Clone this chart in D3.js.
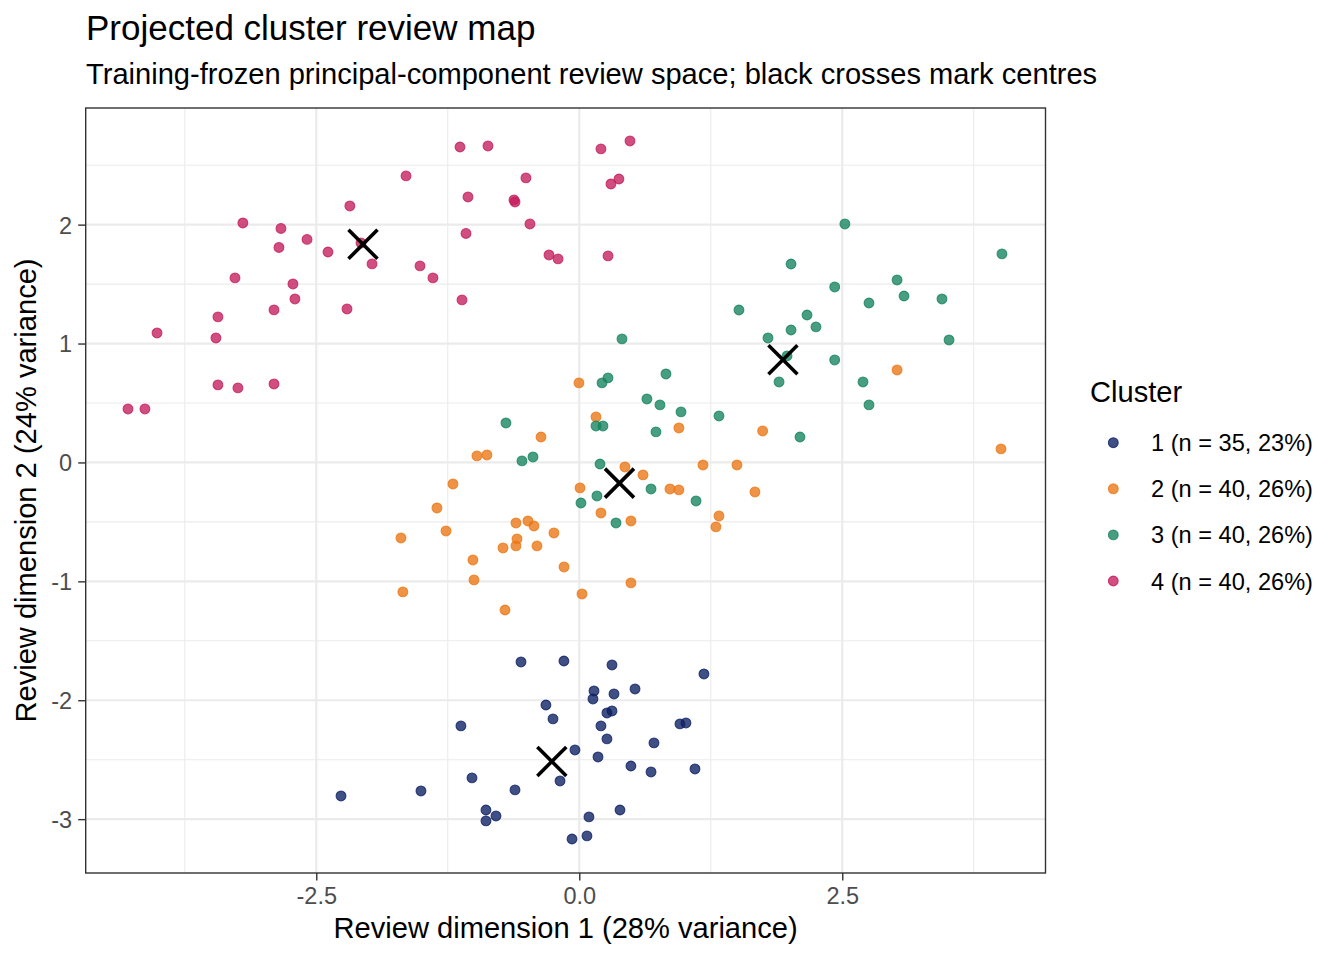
<!DOCTYPE html>
<html>
<head>
<meta charset="utf-8">
<script src="https://cdn.jsdelivr.net/npm/d3@7"></script>
<style>
  html, body { margin: 0; padding: 0; background: #fff; }
  svg { display: block; }
  text { font-family: "Liberation Sans", Arial, Helvetica, sans-serif; }
</style>
</head>
<body>
<svg id="chart" width="1344" height="960"></svg>
<script>
// ---------------- data ----------------
const clusterNames = ["1 (n = 35, 23%)", "2 (n = 40, 26%)", "3 (n = 40, 26%)", "4 (n = 40, 26%)"];
const clusterColors = ["#0c1f62", "#ea7612", "#14835d", "#c41c5c"];

const cluster1Points = [
  [-0.554,-1.678],[-0.146,-1.670],[0.311,-1.703],[1.185,-1.779],[0.140,-1.922],
  [0.130,-1.989],[0.330,-1.947],[0.530,-1.905],[-0.317,-2.040],[-0.250,-2.157],
  [0.263,-2.107],[0.311,-2.090],[-1.125,-2.216],[0.206,-2.216],[0.957,-2.199],
  [1.014,-2.191],[0.263,-2.325],[0.710,-2.359],[-0.041,-2.418],[0.178,-2.477],
  [0.491,-2.553],[0.682,-2.603],[1.100,-2.578],[-1.020,-2.653],[-0.183,-2.679],
  [-0.611,-2.754],[-1.505,-2.763],[-2.265,-2.805],[-0.887,-2.923],[-0.792,-2.973],
  [-0.887,-3.015],[0.092,-2.981],[0.387,-2.923],[-0.069,-3.167],[0.073,-3.141]
];
const cluster2Points = [
  [-0.003,0.669],[0.159,0.383],[-0.364,0.214],[0.947,0.290],[-0.973,0.055],
  [-0.878,0.063],[0.434,-0.038],[0.606,-0.105],[1.176,-0.021],[1.499,-0.021],
  [0.007,-0.214],[0.862,-0.223],[0.947,-0.231],[0.206,-0.425],[0.491,-0.492],
  [1.328,-0.450],[1.299,-0.542],[-0.602,-0.509],[-0.488,-0.492],[-0.431,-0.534],
  [-0.241,-0.593],[-0.592,-0.643],[-1.201,-0.181],[-1.353,-0.383],[-1.267,-0.576],
  [-1.695,-0.635],[-0.602,-0.702],[-0.725,-0.719],[-0.402,-0.702],[-1.011,-0.820],
  [-0.145,-0.879],[-1.001,-0.988],[0.491,-1.013],[-1.677,-1.089],[0.026,-1.106],
  [-0.706,-1.241],[3.021,0.778],[1.743,0.265],[4.009,0.114],[1.670,-0.248]
];
const cluster3Points = [
  [2.525,2.006],[4.018,1.754],[2.013,1.669],[3.021,1.535],[2.428,1.476],
  [3.087,1.400],[3.448,1.375],[2.754,1.341],[1.518,1.282],[2.165,1.240],
  [2.250,1.140],[2.013,1.114],[1.794,1.047],[3.515,1.030],[1.975,0.896],
  [2.428,0.862],[1.899,0.677],[2.697,0.677],[2.754,0.484],[1.328,0.391],
  [2.098,0.214],[0.406,1.039],[0.273,0.711],[0.216,0.669],[0.824,0.744],
  [0.643,0.534],[0.767,0.484],[0.967,0.425],[-0.697,0.332],[0.159,0.307],
  [0.225,0.307],[0.729,0.257],[-0.545,0.013],[-0.440,0.046],[0.197,-0.013],
  [0.682,-0.223],[0.168,-0.282],[0.016,-0.341],[1.110,-0.324],[0.349,-0.509]
];
const cluster4Points = [
  [-1.134,2.653],[-0.868,2.662],[0.206,2.637],[0.482,2.704],[-1.647,2.410],
  [-0.507,2.393],[0.301,2.342],[0.377,2.384],[-1.058,2.233],[-0.621,2.208],
  [-0.611,2.191],[-2.181,2.157],[-3.198,2.014],[-0.469,2.006],[-2.836,1.968],
  [-1.077,1.926],[-2.588,1.876],[-2.855,1.808],[-2.389,1.770],[-2.075,1.846],
  [-1.970,1.670],[-1.514,1.653],[-1.391,1.552],[-0.288,1.745],[-0.202,1.712],
  [0.273,1.737],[-3.273,1.552],[-2.722,1.501],[-2.703,1.375],[-1.115,1.367],
  [-2.902,1.283],[-2.208,1.291],[-4.014,1.089],[-3.435,1.224],[-3.454,1.047],
  [-3.435,0.652],[-3.245,0.627],[-2.902,0.660],[-4.290,0.450],[-4.129,0.450]
];
const clusterCentres = [[-0.261,-2.515],[0.382,-0.174],[1.936,0.863],[-2.056,1.835]];

const xMajorTicks = [-2.5, 0, 2.5];
const xMinorTicks = [-3.75, -1.25, 1.25, 3.75];
const yMajorTicks = [-3, -2, -1, 0, 1, 2];
const yMinorTicks = [-2.5, -1.5, -0.5, 0.5, 1.5, 2.5];

const titleText = "Projected cluster review map";
const subtitleText = "Training-frozen principal-component review space; black crosses mark centres";
const xTitle = "Review dimension 1 (28% variance)";
const yTitle = "Review dimension 2 (24% variance)";
const legendTitle = "Cluster";

// ---------------- drawing ----------------
const svg = d3.select("#chart");
const panel = {left: 85.7, right: 1045.5, top: 108, bottom: 873};

const x = d3.scaleLinear().domain([-4.692, 4.432]).range([panel.left, panel.right]);
const y = d3.scaleLinear().domain([-3.453, 2.981]).range([panel.bottom, panel.top]);

const clusters = [cluster1Points, cluster2Points, cluster3Points, cluster4Points];

// panel background
svg.append("rect").attr("x", panel.left).attr("y", panel.top)
  .attr("width", panel.right - panel.left).attr("height", panel.bottom - panel.top)
  .attr("fill", "#fff");

// grid
const grid = svg.append("g");
grid.selectAll(".xminor").data(xMinorTicks).join("line")
  .attr("x1", d => x(d)).attr("x2", d => x(d)).attr("y1", panel.top).attr("y2", panel.bottom)
  .attr("stroke", "#ebebeb").attr("stroke-width", 1.1);
grid.selectAll(".yminor").data(yMinorTicks).join("line")
  .attr("y1", d => y(d)).attr("y2", d => y(d)).attr("x1", panel.left).attr("x2", panel.right)
  .attr("stroke", "#ebebeb").attr("stroke-width", 1.1);
grid.selectAll(".xmajor").data(xMajorTicks).join("line")
  .attr("x1", d => x(d)).attr("x2", d => x(d)).attr("y1", panel.top).attr("y2", panel.bottom)
  .attr("stroke", "#ebebeb").attr("stroke-width", 2.2);
grid.selectAll(".ymajor").data(yMajorTicks).join("line")
  .attr("y1", d => y(d)).attr("y2", d => y(d)).attr("x1", panel.left).attr("x2", panel.right)
  .attr("stroke", "#ebebeb").attr("stroke-width", 2.2);

// points
const pts = svg.append("g");
clusters.forEach((pp, i) => {
  pts.append("g").selectAll("circle").data(pp).join("circle")
    .attr("cx", d => x(d[0])).attr("cy", d => y(d[1])).attr("r", 4.9)
    .attr("fill", clusterColors[i]).attr("fill-opacity", 0.78)
    .attr("stroke", clusterColors[i]).attr("stroke-opacity", 0.78).attr("stroke-width", 1.1);
});

// centres (crosses)
const cs = 14.5;
const crosses = svg.append("g").selectAll("g").data(clusterCentres).join("g")
  .attr("transform", d => `translate(${x(d[0])},${y(d[1])})`);
crosses.append("line").attr("x1", -cs).attr("y1", -cs).attr("x2", cs).attr("y2", cs)
  .attr("stroke", "#000").attr("stroke-width", 3.6);
crosses.append("line").attr("x1", -cs).attr("y1", cs).attr("x2", cs).attr("y2", -cs)
  .attr("stroke", "#000").attr("stroke-width", 3.6);

// panel border
svg.append("rect").attr("x", panel.left).attr("y", panel.top)
  .attr("width", panel.right - panel.left).attr("height", panel.bottom - panel.top)
  .attr("fill", "none").attr("stroke", "#333333").attr("stroke-width", 1.4);

// axes
const fmtX = d => d === 0 ? "0.0" : d3.format(".1f")(d).replace("−", "-");
const xAxis = d3.axisBottom(x).tickValues(xMajorTicks).tickSize(7.5).tickPadding(4)
  .tickFormat(fmtX);
const yAxis = d3.axisLeft(y).tickValues(yMajorTicks).tickSize(7.5).tickPadding(4)
  .tickFormat(d => String(d));

const gx = svg.append("g").attr("transform", `translate(0,${panel.bottom})`).call(xAxis);
const gy = svg.append("g").attr("transform", `translate(${panel.left},0)`).call(yAxis);
[gx, gy].forEach(g => {
  g.select(".domain").remove();
  g.selectAll(".tick line").attr("stroke", "#333333").attr("stroke-width", 1.4);
  g.selectAll(".tick text").attr("fill", "#4d4d4d").attr("font-size", 23.5)
    .style("font-family", '"Liberation Sans", Arial, sans-serif');
});
gx.selectAll(".tick text").attr("dy", null).attr("y", 30.5);
gy.selectAll(".tick text").attr("dy", null).attr("x", -13.5).attr("y", 8.4);

// axis titles
svg.append("text").attr("x", (panel.left + panel.right) / 2).attr("y", 938)
  .attr("text-anchor", "middle").attr("font-size", 29.1).attr("fill", "#000").text(xTitle);
svg.append("text").attr("transform", `translate(36,${(panel.top + panel.bottom) / 2}) rotate(-90)`)
  .attr("text-anchor", "middle").attr("font-size", 29.1).attr("fill", "#000").text(yTitle);

// title & subtitle
svg.append("text").attr("x", 86).attr("y", 40).attr("font-size", 35).attr("fill", "#000").text(titleText);
svg.append("text").attr("x", 86).attr("y", 84).attr("font-size", 29.1).attr("fill", "#000").text(subtitleText);

// legend
const lg = svg.append("g");
lg.append("text").attr("x", 1090).attr("y", 401.5).attr("font-size", 29.1).attr("fill", "#000").text(legendTitle);
const items = lg.selectAll(".item").data(clusterNames).join("g")
  .attr("transform", (d, i) => `translate(1113.3,${442.7 + i * 46.1})`);
items.append("circle").attr("r", 4.9)
  .attr("fill", (d, i) => clusterColors[i]).attr("fill-opacity", 0.78)
  .attr("stroke", (d, i) => clusterColors[i]).attr("stroke-opacity", 0.78).attr("stroke-width", 1.1);
items.append("text").attr("x", 37.7).attr("y", 8.5).attr("font-size", 23.6).attr("fill", "#000").text(d => d);
</script>
</body>
</html>
